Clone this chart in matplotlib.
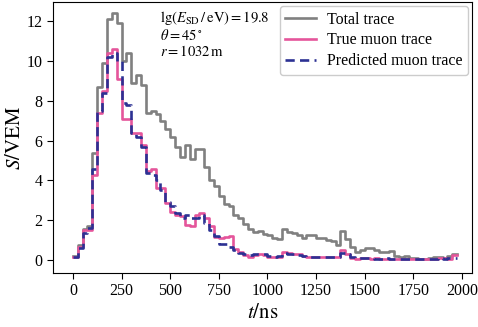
import numpy as np
import matplotlib
matplotlib.use("Agg")
import matplotlib.pyplot as plt

plt.rcParams['font.family'] = ['Liberation Serif', 'DejaVu Serif']
plt.rcParams['mathtext.fontset'] = 'stix'

# time bins (ns), 25 ns sampling
t = np.arange(0, 2000, 25)

# total signal trace (VEM)
total = [0.2, 0.2, 0.75, 1.55, 1.7, 5.4, 8.7, 9.9, 12.1, 12.4, 11.9,
         10.0, 10.4, 8.9, 9.3, 8.8, 7.4, 7.5, 7.35, 7.0, 6.6,
         6.2, 5.7, 5.2, 5.8, 5.1, 5.6, 5.6, 4.7, 4.0, 3.7,
         3.2, 2.8, 2.7, 2.25, 2.1, 1.8, 1.55, 1.4, 1.45, 1.3,
         1.25, 1.1, 1.05, 1.55, 1.4, 1.35, 1.25, 1.1, 1.25, 1.25,
         1.1, 1.1, 1.0, 0.95, 0.75, 1.45, 1.05, 0.67, 0.42, 0.5,
         0.6, 0.6, 0.5, 0.42, 0.42, 0.45, 0.2, 0.17, 0.2, 0.1,
         0.1, 0.05, 0.05, 0.1, 0.17, 0.17, 0.1, 0.2, 0.3]

# true muon trace
muon_true = [0.17, 0.17, 0.67, 1.5, 1.5, 4.3, 7.4, 8.5, 10.4, 10.6, 9.1,
             7.1, 7.1, 6.4, 6.4, 5.8, 4.5, 4.6, 3.6, 3.6, 2.85,
             2.4, 2.25, 2.2, 1.75, 1.7, 2.25, 2.35, 2.1, 1.7, 1.17,
             1.1, 1.15, 1.2, 0.55, 0.4, 0.25, 0.17, 0.25, 0.3, 0.25,
             0.17, 0.17, 0.17, 0.42, 0.35, 0.3, 0.3, 0.2, 0.15, 0.15,
             0.15, 0.15, 0.15, 0.15, 0.17, 0.5, 0.3, 0.1, 0.08, 0.1,
             0.1, 0.08, 0.1, 0.08, 0.08, 0.05, 0.05, 0.05, 0.05, 0.05,
             0.05, 0.05, 0.05, 0.05, 0.05, 0.1, 0.1, 0.05, 0.25]

# predicted muon trace
muon_pred = [0.17, 0.17, 0.6, 1.35, 1.6, 4.6, 7.5, 8.4, 10.2, 10.4, 10.0,
             7.9, 7.8, 6.4, 6.2, 5.7, 4.4, 4.3, 4.0, 3.5, 2.9,
             2.7, 2.35, 2.1, 2.25, 2.1, 2.1, 2.25, 1.85, 1.5, 1.2,
             0.83, 0.8, 0.67, 0.54, 0.37, 0.3, 0.25, 0.3, 0.3, 0.3,
             0.2, 0.17, 0.2, 0.35, 0.3, 0.3, 0.25, 0.2, 0.17, 0.15,
             0.17, 0.15, 0.15, 0.15, 0.15, 0.35, 0.3, 0.15, 0.1, 0.12,
             0.1, 0.1, 0.08, 0.08, 0.1, 0.08, 0.05, 0.05, 0.05, 0.05,
             0.05, 0.05, 0.05, 0.05, 0.05, 0.1, 0.08, 0.1, 0.12]

fig = plt.figure(figsize=(4.78, 3.27), dpi=100)
ax = fig.add_axes([0.111, 0.165, 0.876, 0.829])

ax.step(t, total, where='pre', color='#808080', lw=1.9, label='Total trace')
ax.step(t, muon_true, where='pre', color='#e5559b', lw=1.9, label='True muon trace')
ax.step(t, muon_pred, where='pre', color='#2c3193', lw=1.9, ls=(0, (3.5, 2)),
        label='Predicted muon trace')

ax.set_xlim(-102, 2050)
ax.set_ylim(-0.64, 12.95)
ax.set_xticks(np.arange(0, 2001, 250))
ax.set_yticks(np.arange(0, 13, 2))
ax.tick_params(labelsize=11.5, length=4)
ax.set_xlabel(r'$t/\mathrm{ns}$', fontsize=15, labelpad=3)
ax.set_ylabel(r'$S/\mathrm{VEM}$', fontsize=15, labelpad=1)

ax.text(0.255, 0.975, r'$\mathrm{lg}(E_\mathrm{SD}\,/\,\mathrm{eV}) = 19.8$'
        '\n' r'$\theta = 45^\circ$' '\n' r'$r = 1032\,\mathrm{m}$',
        transform=ax.transAxes, va='top', ha='left', fontsize=10.5,
        linespacing=1.1)

ax.legend(loc='upper right', fontsize=11.5, framealpha=1, edgecolor='#cccccc',
          handlelength=1.9, handletextpad=0.7, borderpad=0.35,
          borderaxespad=0.25, labelspacing=0.3)

fig.savefig('out.png', dpi=100)
